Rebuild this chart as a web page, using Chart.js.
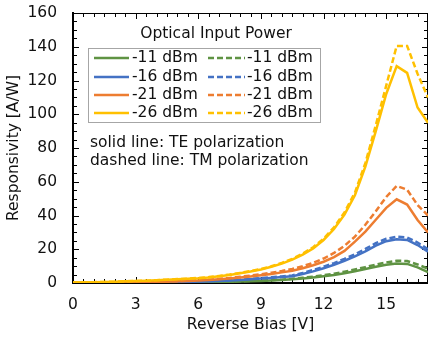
<!DOCTYPE html>
<html>
<head>
<meta charset="utf-8">
<script src="https://cdn.jsdelivr.net/npm/chart.js@4"></script>
<style>
  html, body { margin: 0; padding: 0; background: #fff; }
  #wrap { width: 428px; height: 337px; }
</style>
</head>
<body>
<div id="wrap"><canvas id="line_chart" width="428" height="337"></canvas></div>
<script>
const FONT = "'DejaVu Sans', Verdana, sans-serif";

// reverse bias [V]
const biasV = [0, 0.5, 1, 1.5, 2, 2.5, 3, 3.5, 4, 4.5, 5, 5.5, 6, 6.5, 7, 7.5, 8, 8.5,
  9, 9.5, 10, 10.5, 11, 11.5, 12, 12.5, 13, 13.5, 14, 14.5, 15, 15.5, 16, 16.5, 17];

// responsivity [A/W], TE = solid, TM = dashed
const te_11 = [0.05, 0.05, 0.1, 0.1, 0.1, 0.15, 0.15, 0.2, 0.2, 0.25, 0.3, 0.35, 0.4, 0.5, 0.6, 0.7, 0.85, 1.0,
  1.2, 1.5, 1.8, 2.2, 2.7, 3.3, 4.0, 4.8, 5.8, 7.0, 8.3, 9.6, 10.8, 11.6, 11.3, 9.3, 6.5];
const tm_11 = [0.05, 0.05, 0.1, 0.1, 0.15, 0.15, 0.2, 0.2, 0.25, 0.3, 0.35, 0.4, 0.5, 0.6, 0.7, 0.85, 1.0, 1.2,
  1.45, 1.7, 2.0, 2.5, 3.1, 3.8, 4.6, 5.5, 6.7, 8.0, 9.4, 10.9, 12.2, 13.2, 13.0, 11.0, 8.5];
const te_16 = [0.1, 0.1, 0.15, 0.2, 0.2, 0.25, 0.3, 0.35, 0.4, 0.5, 0.6, 0.7, 0.85, 1.0, 1.2, 1.5, 1.8, 2.2,
  2.6, 3.0, 3.5, 4.0, 5.3, 6.9, 8.7, 10.8, 13.2, 15.8, 18.8, 22.2, 24.8, 25.9, 25.5, 22.5, 18.5];
const tm_16 = [0.1, 0.1, 0.15, 0.2, 0.25, 0.3, 0.35, 0.4, 0.5, 0.55, 0.65, 0.8, 0.95, 1.1, 1.35, 1.65, 2.0, 2.4,
  2.9, 3.4, 3.9, 4.5, 6.0, 7.7, 9.6, 11.8, 14.3, 17.0, 20.2, 23.6, 26.2, 27.4, 27.0, 24.0, 20.0];
const te_21 = [0.2, 0.2, 0.25, 0.3, 0.35, 0.4, 0.5, 0.6, 0.7, 0.8, 1.0, 1.2, 1.5, 1.8, 2.2, 2.7, 3.3, 3.9,
  4.6, 5.4, 6.3, 7.3, 8.7, 10.5, 12.6, 15.3, 19.0, 24.5, 30.5, 37.5, 44.5, 49.6, 46.5, 37.3, 30.0];
const tm_21 = [0.2, 0.2, 0.25, 0.3, 0.35, 0.45, 0.55, 0.65, 0.8, 0.9, 1.1, 1.4, 1.7, 2.0, 2.5, 3.0, 3.7, 4.4,
  5.2, 6.1, 7.1, 8.3, 9.9, 12.0, 14.5, 17.8, 22.0, 27.5, 34.5, 42.5, 51.0, 57.5, 55.3, 46.2, 40.0];
const te_26 = [0.3, 0.4, 0.5, 0.6, 0.8, 1.0, 1.2, 1.4, 1.6, 1.9, 2.2, 2.5, 2.8, 3.3, 4.0, 4.8, 5.8, 6.8,
  8.0, 9.6, 11.5, 13.8, 16.8, 20.5, 25.5, 32.0, 40.5, 52.0, 69.0, 90.0, 112.0, 128.5, 124.5, 104.0, 95.0];
const tm_26 = [0.3, 0.4, 0.5, 0.6, 0.8, 1.0, 1.2, 1.4, 1.7, 2.0, 2.3, 2.6, 3.0, 3.5, 4.2, 5.0, 6.0, 7.0,
  8.3, 9.9, 11.9, 14.3, 17.4, 21.2, 26.3, 33.0, 41.8, 53.6, 71.0, 93.5, 117.0, 140.5, 140.5, 124.0, 110.0];

const powerLabels = ["-11 dBm", "-16 dBm", "-21 dBm", "-26 dBm"];
const colors = ["#5f9343", "#4472c4", "#ed7d31", "#ffc000"];
const teSeries = [te_11, te_16, te_21, te_26];
const tmSeries = [tm_11, tm_16, tm_21, tm_26];

const toPoints = (arr) => arr.map((v, i) => ({ x: biasV[i], y: v }));

const datasets = [];
powerLabels.forEach((label, i) => {
  datasets.push({
    label: label,
    data: toPoints(teSeries[i]),
    borderColor: colors[i],
    borderWidth: 2.5,
    pointRadius: 0,
    tension: 0,
    order: 10 - i * 2,
  });
  datasets.push({
    label: label,
    data: toPoints(tmSeries[i]),
    borderColor: colors[i],
    borderWidth: 2.5,
    borderDash: [6, 3],
    pointRadius: 0,
    tension: 0,
    order: 9 - i * 2,
  });
});

// inward ticks on all four sides + top frame line
const frameTicks = {
  id: "frameTicks",
  beforeDatasetsDraw(chart) {
    const { ctx, chartArea: a, scales } = chart;
    const xs = scales.x, ys = scales.y;
    ctx.save();
    ctx.strokeStyle = "#000";
    ctx.lineWidth = 1;
    ctx.beginPath();
    ctx.moveTo(a.left, a.top + 0.5);
    ctx.lineTo(a.right, a.top + 0.5);
    ctx.moveTo(a.right - 0.5, a.top);
    ctx.lineTo(a.right - 0.5, a.bottom);
    for (let v = 0; v <= 17.001; v += 0.5) {
      const px = Math.round(xs.getPixelForValue(v)) + 0.5;
      const len = Math.abs(v % 3) < 1e-6 ? 6 : 4;
      ctx.moveTo(px, a.bottom);
      ctx.lineTo(px, a.bottom - len);
      ctx.moveTo(px, a.top);
      ctx.lineTo(px, a.top + len);
    }
    for (let v = 0; v <= 160; v += 5) {
      const py = Math.round(ys.getPixelForValue(v)) + 0.5;
      const len = v % 20 === 0 ? 6 : 4;
      ctx.moveTo(a.left, py);
      ctx.lineTo(a.left + len, py);
      ctx.moveTo(a.right, py);
      ctx.lineTo(a.right - len, py);
    }
    ctx.stroke();
    ctx.restore();
  },
};

// legend box with two columns (TE solid / TM dashed) and notes
const boxLegend = {
  id: "boxLegend",
  afterDatasetsDraw(chart) {
    const { ctx } = chart;
    const ds = chart.data.datasets;
    ctx.save();
    ctx.font = "15.5px " + FONT;
    ctx.fillStyle = "#111";
    ctx.textBaseline = "middle";
    ctx.textAlign = "center";
    ctx.fillText("Optical Input Power", 216, 34);

    ctx.fillStyle = "#fff";
    ctx.fillRect(88, 48, 232, 74);
    ctx.strokeStyle = "#a6a6a6";
    ctx.lineWidth = 1;
    ctx.strokeRect(88.5, 48.5, 232, 74);

    ctx.textAlign = "left";
    const rowY = [58, 77, 95, 113];
    const cols = [{ x0: 94, x1: 129, tx: 132 }, { x0: 208, x1: 245, tx: 247 }];
    ds.forEach((d, k) => {
      const row = Math.floor(k / 2);
      const col = cols[k % 2];
      const y = rowY[row];
      ctx.strokeStyle = d.borderColor;
      ctx.lineWidth = 2.5;
      ctx.setLineDash(d.borderDash || []);
      ctx.beginPath();
      ctx.moveTo(col.x0, y);
      ctx.lineTo(col.x1, y);
      ctx.stroke();
      ctx.setLineDash([]);
      ctx.fillStyle = "#111";
      ctx.fillText(d.label, col.tx, y);
    });

    ctx.fillText("solid line: TE polarization", 90, 143);
    ctx.fillText("dashed line: TM polarization", 90, 161);
    ctx.restore();
  },
};

const ctx = document.getElementById("line_chart").getContext("2d");

new Chart(ctx, {
  type: "line",
  data: { datasets: datasets },
  options: {
    responsive: false,
    devicePixelRatio: 1,
    animation: false,
    layout: { padding: { top: 13, right: 0, left: 0, bottom: 0 } },
    plugins: {
      legend: { display: false },
      tooltip: { enabled: false },
    },
    scales: {
      x: {
        type: "linear",
        min: 0,
        max: 17,
        afterBuildTicks: (scale) => {
          scale.ticks = scale.ticks.filter((t) => t.value % 3 === 0);
        },
        afterFit: (scale) => {
          scale.height = 54;
          scale.paddingLeft = 0;
          scale.paddingRight = 0;
        },
        grid: { display: false, drawTicks: false },
        border: { display: true, color: "#000", width: 2 },
        ticks: {
          stepSize: 3,
          padding: 13,
          maxRotation: 0,
          color: "#111",
          font: { family: FONT, size: 15.5 },
        },
        title: {
          display: true,
          text: "Reverse Bias [V]",
          color: "#111",
          font: { family: FONT, size: 15.5 },
          padding: { top: 0, bottom: 3 },
        },
      },
      y: {
        min: 0,
        max: 160,
        afterFit: (scale) => {
          scale.width = 73;
          scale.paddingTop = 0;
          scale.paddingBottom = 0;
        },
        grid: { display: false, drawTicks: false },
        border: { display: true, color: "#000", width: 2 },
        ticks: {
          stepSize: 20,
          padding: 16,
          color: "#111",
          font: { family: FONT, size: 15.5 },
        },
        title: {
          display: true,
          text: "Responsivity [A/W]",
          color: "#111",
          font: { family: FONT, size: 15.5 },
          padding: { top: 5, bottom: 0 },
        },
      },
    },
  },
  plugins: [frameTicks, boxLegend],
});
</script>
</body>
</html>
